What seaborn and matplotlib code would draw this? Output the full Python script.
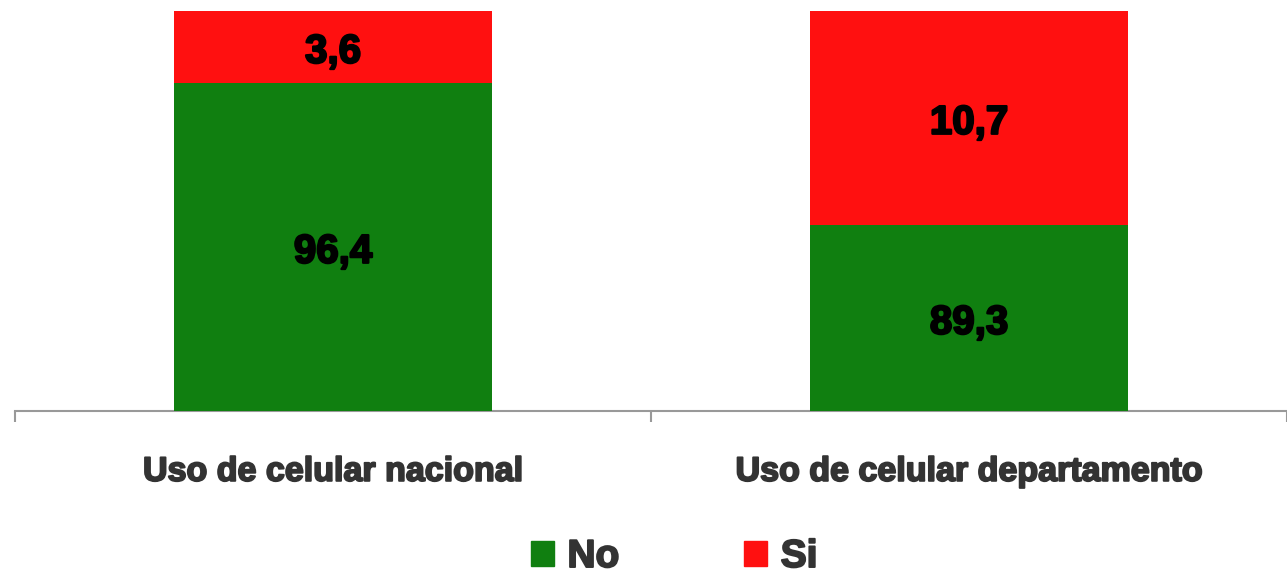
import matplotlib
matplotlib.use("Agg")
import matplotlib.pyplot as plt
import matplotlib.patheffects as pe
import seaborn as sns
import pandas as pd
import numpy as np

categories = ["Uso de celular nacional", "Uso de celular departamento"]
# bar segment heights as drawn in the picture (percent of bar height)
no_heights = [82.0, 46.5]
si_heights = [18.0, 53.5]
# value labels as printed
no_labels = ["96,4", "89,3"]
si_labels = ["3,6", "10,7"]
series = ["No", "Si"]

GREEN = "#107F10"
RED = "#FF1010"

sns.set_theme(style="white")
plt.rcParams["font.family"] = ["Liberation Sans", "DejaVu Sans"]

fig = plt.figure(figsize=(12.87, 5.84), dpi=100)
ax = fig.add_axes([15 / 1287, (584 - 411) / 584, 1 - 15 / 1287, 400 / 584])

df = pd.DataFrame({"cat": categories,
                   "total": np.array(no_heights) + np.array(si_heights),
                   "no": no_heights})
sns.barplot(data=df, x="cat", y="total", color=RED, width=0.5, saturation=1,
            ax=ax, linewidth=0)
sns.barplot(data=df, x="cat", y="no", color=GREEN, width=0.5, saturation=1,
            ax=ax, linewidth=0)

heavy_black = [pe.withStroke(linewidth=1.6, foreground="black")]
heavy_grey = [pe.withStroke(linewidth=1.4, foreground="#333333")]

for i in range(len(categories)):
    ax.text(i, no_heights[i] / 2 - 1.2, no_labels[i], ha="center", va="center",
            fontsize=29, fontweight="bold", color="black", path_effects=heavy_black)
    ax.text(i, no_heights[i] + si_heights[i] / 2 - 1.2, si_labels[i], ha="center",
            va="center", fontsize=29, fontweight="bold", color="black",
            path_effects=heavy_black)

ax.set_xlim(-0.5, 1.5)
ax.set_ylim(0, 100)
ax.set_xlabel("")
ax.set_ylabel("")
ax.set_yticks([])
for s in ["top", "right", "left"]:
    ax.spines[s].set_visible(False)
ax.spines["bottom"].set_color("#999999")
ax.spines["bottom"].set_linewidth(1.5)
ax.spines["bottom"].set_zorder(0.5)

ax.tick_params(axis="x", which="major", length=0, pad=33, labelsize=24.5,
               labelcolor="#333333")
for lab in ax.get_xticklabels():
    lab.set_fontweight("bold")
    lab.set_path_effects(heavy_grey)
ax.set_xticks([-0.5, 0.5, 1.5], minor=True)
ax.tick_params(axis="x", which="minor", bottom=True, length=8, width=1.5,
               color="#999999", direction="out")

handles = [plt.Rectangle((0, 0), 1, 1, color=GREEN),
           plt.Rectangle((0, 0), 1, 1, color=RED)]
leg = fig.legend(handles, series, loc="center", ncol=2,
                 bbox_to_anchor=(674 / 1287, 1 - 557 / 584), frameon=False,
                 handlelength=0.6, handleheight=0.6, handletextpad=0.35,
                 columnspacing=3.2, prop={"size": 28, "weight": "bold"})
for t in leg.get_texts():
    t.set_color("#333333")
    t.set_path_effects(heavy_grey)

fig.savefig("out.png", dpi=100)
